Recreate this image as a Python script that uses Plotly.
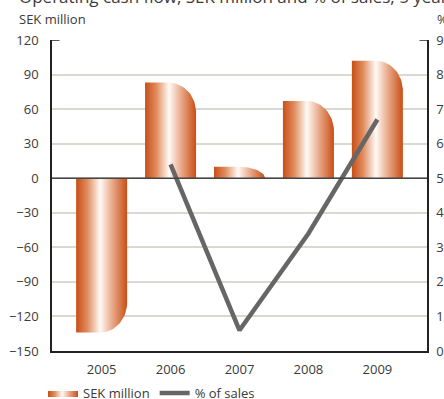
import math
import plotly.graph_objects as go

# Operating cash flow (SEK million) and share of sales (%)
years = [2005, 2006, 2007, 2008, 2009]
year_labels = ["2005", "2006", "2007", "2008", "2009"]
cash_flow = [-134, 83, 10, 67, 102]
pct_sales_years = [2006, 2007, 2008, 2009]
pct_sales = [5.4, 0.6, 3.4, 6.7]

left_ticks = list(range(-150, 121, 30))
right_ticks = list(range(0, 10))

FONT = "Open Sans"
TEXT = "#3a3a3a"
ORANGE_SCALE = [
    [0.0, "#c84f16"],
    [0.22, "#e08c5e"],
    [0.47, "#fffaf6"],
    [0.72, "#e8a584"],
    [1.0, "#c84f16"],
]

HALF_W = 0.37      # half bar width (x units)
RX = 0.39          # corner radius along x (x units)
RY = 26            # corner radius along y (SEK million)
N_ARC = 24


def bar_outline(c, v):
    """Closed outline of a bar with one rounded outer corner on the right."""
    ry = min(RY, abs(v))
    sgn = 1 if v >= 0 else -1
    x0, x1 = c - HALF_W, c + HALF_W
    cx, cy = x1 - RX, v - sgn * ry
    xs = [x0, x0, cx]
    ys = [0, v, v]
    for i in range(1, N_ARC + 1):
        t = (math.pi / 2) * i / N_ARC
        xs.append(cx + RX * math.sin(t))
        ys.append(cy + sgn * ry * math.cos(t))
    xs += [x1, x0]
    ys += [0, 0]
    return xs, ys


fig = go.Figure()

for i, (yr, v) in enumerate(zip(years, cash_flow)):
    xs, ys = bar_outline(yr, v)
    fig.add_trace(go.Scatter(
        x=xs, y=ys, mode="lines", fill="toself",
        line=dict(width=0, color="#c84f16"),
        fillgradient=dict(type="horizontal", colorscale=ORANGE_SCALE,
                          start=yr - HALF_W, stop=yr + HALF_W),
        name="SEK million", legendgroup="sek", showlegend=(i == 0),
        hoverinfo="skip",
    ))

fig.add_trace(go.Scatter(
    x=pct_sales_years, y=pct_sales, yaxis="y2", mode="lines",
    line=dict(color="#666666", width=4.5),
    name="% of sales",
))

fig.update_layout(
    width=444, height=399,
    margin=dict(l=52, r=17, t=40, b=48, autoexpand=False),
    paper_bgcolor="white", plot_bgcolor="white",
    font=dict(family=FONT, size=13, color=TEXT),
    showlegend=True,
    legend=dict(orientation="h", x=-0.024, y=-0.087, xanchor="left", yanchor="top",
                font=dict(size=13, color=TEXT), itemwidth=30, tracegroupgap=0,
                bgcolor="rgba(0,0,0,0)"),
    xaxis=dict(range=[2004.28, 2009.72], tickvals=years, ticktext=year_labels,
               showgrid=False, zeroline=False, showline=True, linecolor="#222222",
               linewidth=1.5, ticks="", ticklabelstandoff=6, fixedrange=True,
               automargin=False),
    yaxis=dict(range=[-150, 120], tickvals=left_ticks, showgrid=True,
               gridcolor="#d9d9d2", gridwidth=1.5, zeroline=False, showline=True,
               linecolor="#222222", linewidth=1.5, ticks="", ticklabelstandoff=9,
               tickformat="d", automargin=False),
    yaxis2=dict(range=[0, 9], tickvals=right_ticks, overlaying="y", side="right",
                showgrid=False, zeroline=False, showline=True, linecolor="#222222",
                linewidth=1.5, ticks="", ticklabelstandoff=5, automargin=False),
    shapes=[
        dict(type="line", xref="paper", yref="y", x0=0, x1=1, y0=0, y1=0,
             line=dict(color="#444444", width=1.5), layer="above"),
        dict(type="line", xref="paper", yref="y", x0=0, x1=0.02, y0=120, y1=120,
             line=dict(color="#222222", width=1.5), layer="above"),
        dict(type="line", xref="paper", yref="y", x0=0.98, x1=1, y0=120, y1=120,
             line=dict(color="#222222", width=1.5), layer="above"),
    ],
    annotations=[
        dict(text="Operating cash flow, SEK million and % of sales, 5 years",
             xref="paper", yref="paper", x=-0.093, y=1.095, xanchor="left",
             yanchor="bottom", showarrow=False, font=dict(size=17, color=TEXT)),
        dict(text="SEK million", xref="paper", yref="paper", x=-0.093, y=1.033,
             xanchor="left", yanchor="bottom", showarrow=False,
             font=dict(size=13, color=TEXT)),
        dict(text="%", xref="paper", yref="paper", x=1.02, y=1.033,
             xanchor="left", yanchor="bottom", showarrow=False,
             font=dict(size=13, color=TEXT)),
    ],
)

fig.write_html("out.html")
